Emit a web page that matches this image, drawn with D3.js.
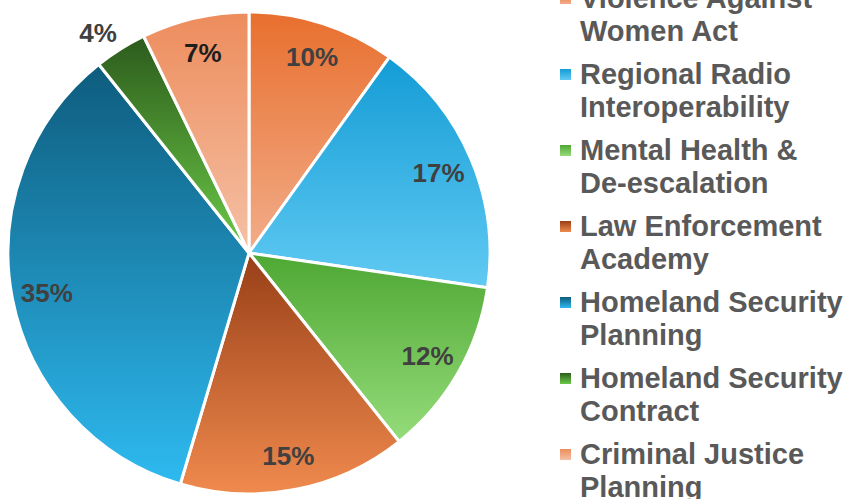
<!DOCTYPE html>
<html>
<head>
<meta charset="utf-8">
<script src="https://cdn.jsdelivr.net/npm/d3@7"></script>
<style>
    body { margin: 0; background: #fff; }
    text { font-family: "Liberation Sans", Arial, sans-serif; font-weight: bold; }
</style>
</head>
<body>
<script>
//anonymous function to wrap script
(function(){

    //pseudo-global variables
    var categories = [
        ["Violence Against", "Women Act"],
        ["Regional Radio", "Interoperability"],
        ["Mental Health &", "De-escalation"],
        ["Law Enforcement", "Academy"],
        ["Homeland Security", "Planning"],
        ["Homeland Security", "Contract"],
        ["Criminal Justice", "Planning"]
    ];
    var values = [9.9, 17.4, 12.0, 15.3, 34.7, 3.5, 7.2]; //shares
    var labels = ["10%", "17%", "12%", "15%", "35%", "4%", "7%"];
    //gradient stops for each slice (top, bottom)
    var topColors = ["#e86f2e", "#149cd5", "#4ea733", "#983f17", "#0e5c7d", "#2c5b1c", "#ed8c5c"];
    var bottomColors = ["#f2ad8a", "#60caf3", "#95dc7a", "#f08a4e", "#2ebaf0", "#6cca48", "#f5c1a6"];

    window.onload = setChart();

    function setChart(){
        var width = 845,
            height = 499;

        var svg = d3.select("body")
            .append("svg")
            .attr("width", width)
            .attr("height", height);

        var defs = svg.append("defs");

        //vertical gradient per slice
        values.forEach(function(v, i){
            var grad = defs.append("linearGradient")
                .attr("id", "grad" + i)
                .attr("x1", 0).attr("y1", 0)
                .attr("x2", 0).attr("y2", 1);
            grad.append("stop").attr("offset", "0%").attr("stop-color", topColors[i]);
            grad.append("stop").attr("offset", "100%").attr("stop-color", bottomColors[i]);
        });

        var cx = 249, cy = 253, radius = 241;

        var pie = d3.pie()
            .sort(null)
            .value(function(d){ return d; });

        var arc = d3.arc()
            .innerRadius(0)
            .outerRadius(radius);

        var labelArc = d3.arc()
            .innerRadius(206)
            .outerRadius(206);

        var outerLabelArc = d3.arc()
            .innerRadius(268)
            .outerRadius(268);

        var g = svg.append("g")
            .attr("transform", "translate(" + cx + "," + cy + ")");

        var arcs = pie(values);

        g.selectAll(".slice")
            .data(arcs)
            .enter()
            .append("path")
            .attr("class", "slice")
            .attr("d", arc)
            .attr("fill", function(d, i){ return "url(#grad" + i + ")"; })
            .attr("stroke", "#fff")
            .attr("stroke-width", 3)
            .attr("stroke-linejoin", "round");

        //percent labels, small slice sits outside
        g.selectAll(".pct")
            .data(arcs)
            .enter()
            .append("text")
            .attr("class", "pct")
            .attr("transform", function(d, i){
                var c = (values[i] < 5 ? outerLabelArc : labelArc).centroid(d);
                if (values[i] < 5) { c[0] -= 8; c[1] += 6; }
                return "translate(" + c[0] + "," + c[1] + ")";
            })
            .attr("text-anchor", "middle")
            .attr("dy", "0.36em")
            .attr("font-size", 26)
            .attr("fill", function(d, i){ return i === 6 ? "#1e1e1e" : "#404040"; })
            .text(function(d, i){ return labels[i]; });

        //legend
        var legendY = d3.scaleLinear()
            .domain([0, categories.length - 1])
            .range([8, 464]);

        var legend = svg.selectAll(".legend")
            .data(categories)
            .enter()
            .append("g")
            .attr("class", "legend")
            .attr("transform", function(d, i){ return "translate(580," + legendY(i) + ")"; });

        legend.append("rect")
            .attr("x", -20)
            .attr("y", -15)
            .attr("width", 11)
            .attr("height", 11)
            .attr("fill", function(d, i){ return "url(#grad" + i + ")"; });

        legend.append("text")
            .attr("font-size", 29)
            .attr("fill", "#595959")
            .selectAll("tspan")
            .data(function(d){ return d; })
            .enter()
            .append("tspan")
            .attr("x", 0)
            .attr("y", function(d, j){ return j * 33; })
            .text(function(d){ return d; });
    };

})();
</script>
</body>
</html>
